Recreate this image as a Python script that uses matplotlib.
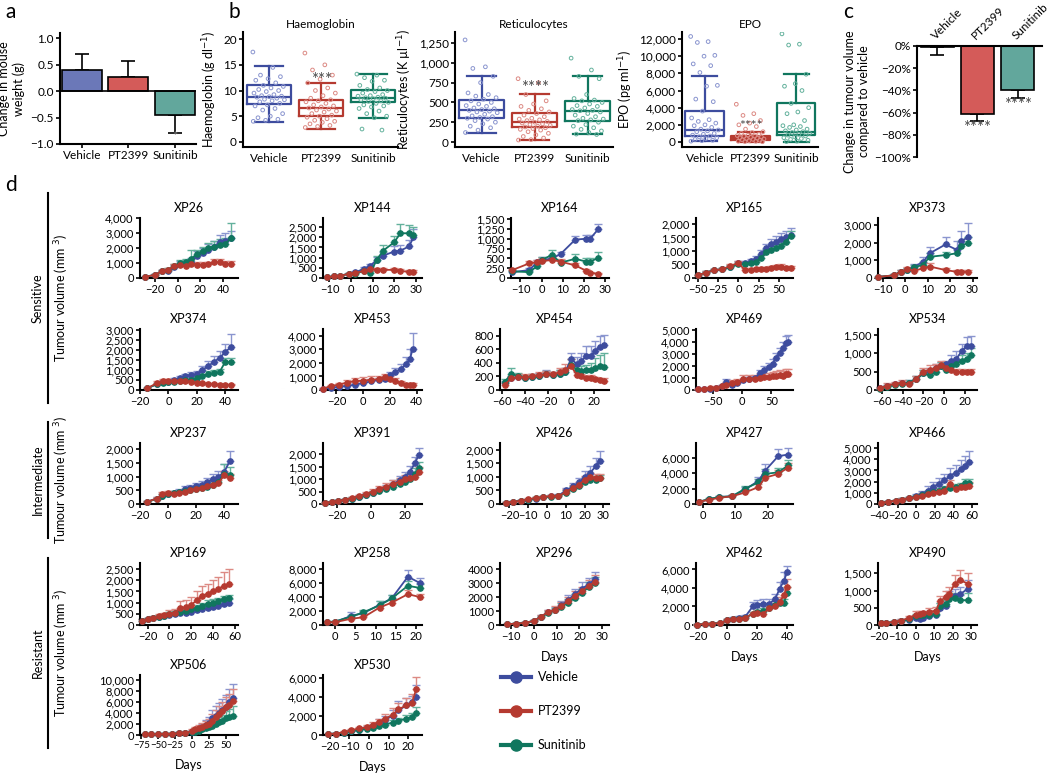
import matplotlib.pyplot as plt
from matplotlib.lines import Line2D
from matplotlib.ticker import FuncFormatter
import numpy as np

plt.rcParams['font.family'] = ['Lato', 'DejaVu Sans']
plt.rcParams['font.size'] = 8

W, H = 1050, 773

BLUE, RED, TEAL = '#3d4c9e', '#b53a30', '#10765e'
LBLUE, LRED, LTEAL = '#8a95cf', '#dc8a84', '#63b19c'
BAR_COLS = ['#6b78b8', '#d45b59', '#62a79c']

GROUPS = ['Vehicle', 'PT2399', 'Sunitinib']

# ---- a: mouse weight change (g)
WEIGHT = [0.40, 0.26, -0.46]
WEIGHT_ERR = [0.30, 0.31, 0.33]

# ---- b: haemoglobin
HB_Q1 = [7.4, 5.0, 7.7]
HB_MED = [8.8, 6.6, 8.6]
HB_Q3 = [11.0, 8.2, 10.1]
HB_LO = [3.9, 2.6, 4.7]
HB_HI = [14.7, 11.4, 13.3]
HB_VEH = [17.5, 14.5, 13.0, 12.7, 12.3, 12.0, 11.5, 11.0, 10.8, 10.5, 10.2, 10.0, 9.8, 9.5, 9.2, 9.0,
          8.9, 8.8, 8.7, 8.5, 8.3, 8.2, 8.0, 7.8, 7.5, 7.2, 7.0, 6.5, 6.2, 5.5, 5.0, 4.7, 4.4, 4.2, 4.0]
HB_PT = [17.3, 15.0, 14.0, 13.0, 12.2, 11.5, 10.5, 10.0, 9.5, 9.0, 8.5, 8.2, 8.0, 7.8, 7.5, 7.2, 7.0,
         6.8, 6.6, 6.4, 6.2, 6.0, 5.8, 5.5, 5.2, 5.0, 4.8, 4.5, 4.2, 4.0, 3.8, 3.5, 3.2, 3.0, 2.8]
HB_SUN = [13.2, 13.0, 12.5, 12.0, 11.8, 11.0, 10.5, 10.2, 10.0, 9.8, 9.5, 9.2, 9.0, 8.9, 8.7, 8.6, 8.5,
          8.4, 8.2, 8.0, 7.9, 7.7, 7.5, 7.2, 7.0, 6.8, 6.5, 6.0, 5.5, 5.0, 4.7, 2.5, 2.3]

# ---- b: reticulocytes
RET_Q1 = [300, 190, 270]
RET_MED = [400, 255, 395]
RET_Q3 = [535, 370, 520]
RET_LO = [115, 25, 95]
RET_HI = [835, 605, 840]
RET_VEH = [1290, 950, 930, 830, 750, 620, 600, 580, 560, 540, 520, 500, 480, 460, 450, 430, 420, 410,
           400, 390, 380, 370, 350, 330, 320, 310, 300, 290, 270, 250, 230, 200, 180, 150, 120]
RET_PT = [800, 750, 600, 520, 480, 450, 420, 400, 380, 360, 340, 320, 300, 290, 280, 270, 260, 250,
          240, 230, 220, 210, 200, 190, 180, 170, 160, 150, 130, 110, 90, 70, 50, 30, 25]
RET_SUN = [1060, 910, 830, 800, 600, 550, 530, 520, 500, 480, 460, 450, 430, 410, 400, 395, 380, 360,
           340, 320, 300, 290, 280, 270, 250, 220, 200, 180, 160, 140, 120, 100, 95]

# ---- b: EPO
EPO_Q1 = [700, 200, 800]
EPO_MED = [1400, 450, 1200]
EPO_Q3 = [3600, 750, 4500]
EPO_LO = [100, 0, 50]
EPO_HI = [7750, 1200, 7900]
EPO_VEH = [12300, 11700, 11600, 10100, 10000, 9100, 8900, 8100, 6600, 6500, 5000, 4700, 3600, 2800,
           2600, 2400, 2200, 2000, 1900, 1700, 1500, 1400, 1300, 1200, 1000, 900, 800, 700, 600, 500,
           400, 300, 200, 150, 100]
EPO_PT = [4400, 3300, 3100, 2500, 2200, 2000, 1800, 1500, 1200, 1100, 1000, 900, 800, 750, 700, 650,
          600, 550, 500, 450, 400, 350, 300, 250, 200, 150, 100, 80, 50, 30]
EPO_SUN = [12600, 11400, 11300, 7900, 6800, 6500, 6000, 4500, 4000, 3500, 3300, 2500, 2000, 1900, 1800,
           1700, 1500, 1400, 1300, 1200, 1100, 1000, 900, 800, 700, 600, 500, 400, 300, 200, 100, 50]

# ---- c: change in tumour volume vs vehicle (%)
TUMOUR_CHANGE = [-1, -61, -40]
TUMOUR_ERR = [7, 7, 7]

# ---- d: tumour growth curves (mm3), mean and SEM
XP26_DAYS = [-29, -20, -14, -8, -3, 2, 7, 12, 17, 22, 27, 32, 37, 42, 47]
XP26_VEH = [80, 200, 450, 500, 750, 950, 1000, 1100, 1500, 1700, 1900, 2100, 2400, 2500, 2650]
XP26_VEH_ERR = [20, 50, 100, 120, 150, 200, 200, 250, 300, 300, 350, 400, 450, 500, 500]
XP26_PT = [80, 200, 450, 550, 800, 850, 800, 950, 900, 900, 950, 1050, 1050, 950, 950]
XP26_PT_ERR = [20, 50, 100, 120, 150, 150, 100, 150, 150, 150, 150, 200, 200, 200, 200]
XP26_SUN = [80, 200, 450, 550, 800, 1000, 1050, 1300, 1600, 1800, 2000, 2100, 2200, 2300, 2650]
XP26_SUN_ERR = [20, 50, 100, 120, 150, 200, 200, 600, 250, 300, 350, 400, 400, 400, 1000]

XP144_DAYS = [-11, -8, -5, -1, 2, 6, 9, 12, 15, 20, 23, 27, 29]
XP144_VEH = [30, 80, 120, 200, 280, 450, 600, 900, 1100, 1300, 1350, 1550, 2000]
XP144_VEH_ERR = [10, 20, 30, 50, 60, 100, 100, 150, 200, 250, 250, 300, 400]
XP144_PT = [30, 80, 120, 200, 250, 350, 450, 400, 400, 400, 350, 300, 300]
XP144_PT_ERR = [10, 20, 30, 50, 60, 100, 100, 100, 100, 100, 100, 80, 80]
XP144_SUN = [30, 80, 120, 200, 200, 350, 250, 900, 1350, 1750, 2200, 2200, 2100]
XP144_SUN_ERR = [10, 20, 30, 50, 60, 100, 80, 200, 250, 300, 450, 400, 400]

XP164_DAYS = [-14, -6, -2, 0, 5, 9, 16, 21, 23, 27]
XP164_VEH = [150, 200, 400, 450, 500, 610, 980, 1000, 1000, 1250]
XP164_VEH_ERR = [30, 50, 60, 80, 80, 60, 80, 100, 100, 130]
XP164_PT = [200, 370, 400, 430, 460, 420, 320, 190, 130, 110]
XP164_PT_ERR = [30, 60, 60, 80, 80, 60, 60, 40, 30, 30]
XP164_SUN = [170, 150, 300, 460, 590, 390, 490, 420, 420, 510]
XP164_SUN_ERR = [30, 40, 60, 80, 120, 70, 120, 100, 100, 150]

XP165_DAYS = [-50, -40, -30, -20, -10, 0, 8, 15, 22, 28, 34, 40, 46, 52, 58, 64]
XP165_VEH = [100, 200, 280, 320, 400, 550, 550, 620, 700, 900, 1100, 1250, 1350, 1450, 1500, 1600]
XP165_VEH_ERR = [20, 60, 60, 60, 70, 80, 80, 90, 100, 150, 150, 200, 200, 200, 250, 250]
XP165_PT = [100, 200, 280, 320, 450, 550, 300, 300, 320, 330, 350, 380, 400, 420, 380, 380]
XP165_PT_ERR = [20, 60, 60, 60, 70, 80, 60, 60, 60, 60, 60, 70, 70, 80, 60, 60]
XP165_SUN = [100, 200, 280, 320, 400, 500, 520, 550, 600, 750, 950, 1050, 1100, 1200, 1350, 1550]
XP165_SUN_ERR = [20, 60, 60, 60, 70, 80, 80, 80, 90, 100, 120, 130, 150, 150, 150, 200]

XP373_DAYS = [-12, -5, -2, 1, 4, 8, 11, 18, 23, 25, 28]
XP373_VEH = [60, 150, 350, 450, 650, 900, 1400, 1900, 1600, 2100, 2300]
XP373_VEH_ERR = [20, 50, 80, 100, 150, 300, 350, 450, 500, 550, 800]
XP373_PT = [60, 150, 350, 500, 400, 550, 650, 450, 350, 350, 350]
XP373_PT_ERR = [20, 50, 80, 150, 100, 150, 200, 100, 80, 80, 80]
XP373_SUN = [60, 150, 350, 450, 600, 750, 1200, 1300, 1400, 1800, 2000]
XP373_SUN_ERR = [20, 50, 80, 100, 120, 150, 200, 200, 250, 300, 300]

XP374_DAYS = [-15, -8, -4, 0, 4, 8, 12, 16, 20, 24, 28, 32, 36, 40, 44]
XP374_VEH = [80, 300, 400, 420, 500, 600, 700, 750, 800, 1000, 1200, 1400, 1600, 1900, 2150]
XP374_VEH_ERR = [20, 60, 80, 80, 100, 100, 120, 150, 150, 200, 250, 300, 350, 400, 650]
XP374_PT = [80, 350, 450, 450, 450, 450, 450, 400, 350, 330, 300, 280, 260, 250, 250]
XP374_PT_ERR = [20, 80, 100, 80, 80, 80, 80, 70, 60, 60, 50, 50, 50, 50, 50]
XP374_SUN = [80, 300, 350, 380, 420, 450, 500, 500, 600, 700, 800, 850, 900, 1400, 1400]
XP374_SUN_ERR = [20, 60, 60, 70, 80, 80, 90, 100, 100, 120, 150, 150, 150, 200, 200]

XP453_DAYS = [-30, -24, -18, -12, -6, 0, 6, 12, 16, 20, 24, 28, 32, 35, 37]
XP453_VEH = [100, 150, 250, 300, 400, 500, 650, 750, 800, 1100, 1300, 1550, 1900, 2300, 3000]
XP453_VEH_ERR = [30, 50, 60, 80, 100, 120, 150, 150, 200, 250, 300, 400, 500, 700, 1200]
XP453_PT = [100, 300, 400, 550, 650, 700, 750, 800, 950, 800, 700, 500, 400, 350, 400]
XP453_PT_ERR = [50, 100, 150, 200, 250, 250, 250, 250, 250, 200, 200, 150, 100, 100, 100]

XP454_DAYS = [-58, -52, -46, -40, -34, -28, -22, -16, -10, -5, 0, 5, 9, 13, 17, 21, 25, 29]
XP454_VEH = [100, 170, 190, 180, 190, 210, 240, 220, 240, 270, 460, 380, 430, 500, 500, 580, 640, 660]
XP454_VEH_ERR = [30, 40, 40, 40, 40, 40, 50, 40, 50, 60, 80, 100, 120, 150, 150, 150, 150, 150]
XP454_PT = [80, 170, 190, 190, 200, 220, 230, 230, 260, 300, 350, 220, 200, 170, 180, 160, 150, 140]
XP454_PT_ERR = [30, 40, 40, 40, 40, 40, 50, 40, 60, 80, 100, 50, 40, 40, 40, 30, 30, 30]
XP454_SUN = [120, 240, 200, 180, 190, 200, 230, 220, 240, 260, 370, 300, 280, 290, 300, 320, 360, 340]
XP454_SUN_ERR = [40, 90, 50, 40, 40, 40, 50, 40, 50, 60, 80, 70, 70, 80, 100, 150, 150, 200]

XP469_DAYS = [-75, -65, -55, -45, -35, -27, -18, -8, 2, 12, 22, 30, 38, 46, 52, 58, 64, 70, 75, 78]
XP469_VEH = [50, 80, 120, 200, 300, 700, 400, 600, 800, 900, 1000, 1400, 1700, 1900, 2200, 2700,
             3100, 3500, 3900, 4000]
XP469_VEH_ERR = [20, 30, 40, 60, 80, 200, 100, 150, 150, 150, 200, 300, 300, 350, 400, 400, 450, 500,
                 600, 600]
XP469_PT = [50, 100, 150, 200, 300, 450, 550, 650, 900, 950, 950, 1000, 1100, 1100, 1150, 1200, 1250,
            1200, 1300, 1300]
XP469_PT_ERR = [30, 50, 80, 100, 150, 200, 250, 300, 350, 300, 300, 300, 350, 350, 350, 400, 400, 400,
                450, 450]

XP534_DAYS = [-62, -55, -48, -41, -34, -27, -20, -14, -8, -3, 2, 7, 12, 17, 22, 26]
XP534_VEH = [50, 100, 150, 180, 200, 300, 450, 500, 600, 650, 700, 800, 850, 1050, 1200, 1200]
XP534_VEH_ERR = [30, 40, 50, 50, 60, 80, 100, 100, 120, 100, 100, 150, 200, 200, 250, 280]
XP534_PT = [50, 120, 160, 200, 150, 300, 500, 550, 600, 680, 600, 550, 500, 500, 480, 500]
XP534_PT_ERR = [40, 60, 70, 80, 60, 80, 100, 120, 120, 100, 100, 100, 80, 70, 60, 60]
XP534_SUN = [40, 90, 130, 160, 200, 300, 450, 400, 500, 650, 550, 650, 700, 800, 850, 950]
XP534_SUN_ERR = [30, 40, 50, 50, 60, 80, 100, 80, 100, 120, 100, 120, 120, 150, 150, 200]

XP237_DAYS = [-15, -8, -4, 0, 4, 8, 12, 16, 20, 24, 28, 32, 36, 40, 44]
XP237_VEH = [80, 200, 300, 350, 400, 450, 550, 600, 650, 700, 800, 900, 1000, 1150, 1550]
XP237_VEH_ERR = [20, 40, 60, 60, 70, 80, 100, 100, 120, 150, 150, 200, 200, 300, 380]
XP237_PT = [80, 200, 350, 400, 380, 400, 450, 500, 550, 600, 650, 700, 750, 1050, 950]
XP237_PT_ERR = [20, 40, 70, 80, 70, 70, 80, 80, 100, 100, 100, 120, 120, 150, 150]
XP237_SUN = [80, 180, 300, 380, 400, 420, 480, 500, 550, 600, 620, 700, 800, 1100, 1050]
XP237_SUN_ERR = [20, 40, 60, 70, 70, 70, 80, 80, 100, 100, 100, 120, 150, 350, 280]

XP391_DAYS = [-27, -23, -19, -15, -11, -7, -3, 1, 5, 9, 13, 17, 20, 23, 26, 28]
XP391_VEH = [50, 80, 120, 170, 220, 300, 380, 450, 550, 650, 800, 950, 1100, 1300, 1650, 1950]
XP391_VEH_ERR = [20, 20, 30, 40, 50, 60, 70, 80, 100, 120, 150, 180, 200, 220, 250, 300]
XP391_PT = [50, 80, 120, 180, 240, 320, 400, 500, 600, 700, 800, 900, 1000, 1050, 1100, 1300]
XP391_PT_ERR = [20, 20, 30, 40, 50, 60, 80, 100, 120, 130, 150, 150, 150, 150, 150, 200]
XP391_SUN = [50, 80, 120, 170, 220, 280, 350, 430, 520, 620, 700, 800, 900, 1000, 1200, 1450]
XP391_SUN_ERR = [20, 20, 30, 40, 50, 60, 70, 80, 100, 120, 150, 200, 200, 250, 250, 250]

XP426_DAYS = [-22, -18, -14, -10, -6, -2, 2, 6, 10, 14, 17, 20, 23, 26, 28]
XP426_VEH = [50, 80, 120, 160, 200, 240, 280, 300, 500, 650, 800, 1000, 1150, 1400, 1600]
XP426_VEH_ERR = [20, 20, 30, 40, 40, 50, 50, 60, 100, 120, 150, 200, 250, 300, 350]
XP426_PT = [50, 80, 120, 170, 220, 260, 290, 280, 450, 600, 700, 900, 1000, 950, 950]
XP426_PT_ERR = [20, 20, 30, 40, 40, 50, 50, 60, 100, 100, 120, 150, 150, 150, 150]
XP426_SUN = [50, 80, 120, 160, 210, 250, 270, 280, 420, 550, 650, 800, 900, 900, 950]
XP426_SUN_ERR = [20, 20, 30, 40, 40, 50, 50, 60, 80, 100, 100, 120, 120, 120, 120]

XP427_DAYS = [-1, 2, 5, 9, 13, 17, 19, 23, 26]
XP427_VEH = [300, 600, 900, 1000, 1900, 3000, 4300, 6200, 6400]
XP427_VEH_ERR = [50, 100, 150, 150, 300, 500, 900, 900, 900]
XP427_PT = [300, 550, 800, 1000, 1500, 2200, 3400, 3900, 4700]
XP427_PT_ERR = [50, 100, 150, 150, 300, 400, 500, 500, 600]
XP427_SUN = [300, 650, 900, 1000, 2000, 2800, 3900, 4100, 5000]
XP427_SUN_ERR = [50, 100, 150, 150, 300, 500, 600, 600, 700]

XP466_DAYS = [-38, -30, -22, -15, -8, 0, 6, 12, 18, 24, 30, 36, 42, 48, 52, 56]
XP466_VEH = [100, 200, 300, 400, 500, 700, 900, 1200, 1500, 1800, 2100, 2500, 2800, 3100, 3400, 3750]
XP466_VEH_ERR = [30, 50, 80, 100, 150, 200, 300, 400, 500, 500, 600, 700, 700, 800, 900, 1000]
XP466_PT = [100, 200, 300, 400, 500, 600, 750, 900, 1000, 1100, 1200, 1800, 1300, 1500, 1500, 1600]
XP466_PT_ERR = [30, 50, 80, 100, 120, 150, 200, 200, 250, 250, 300, 300, 300, 300, 350, 350]
XP466_SUN = [100, 200, 300, 400, 500, 650, 800, 1000, 1100, 1200, 1300, 1400, 1500, 1600, 1900, 1900]
XP466_SUN_ERR = [30, 50, 80, 100, 120, 150, 200, 200, 250, 250, 300, 300, 300, 300, 300, 350]

XP169_DAYS = [-25, -20, -15, -10, -5, 0, 5, 10, 15, 20, 25, 30, 35, 40, 45, 50, 55]
XP169_VEH = [200, 250, 300, 350, 400, 450, 500, 520, 550, 600, 650, 700, 750, 800, 850, 950, 1000]
XP169_VEH_ERR = [50, 50, 60, 70, 80, 90, 100, 100, 100, 120, 120, 130, 130, 150, 150, 150, 150]
XP169_PT = [200, 250, 320, 380, 430, 500, 550, 750, 800, 900, 1100, 1300, 1400, 1500, 1600, 1750, 1850]
XP169_PT_ERR = [50, 60, 80, 100, 120, 150, 150, 300, 300, 350, 400, 450, 450, 500, 550, 600, 650]
XP169_SUN = [200, 250, 300, 370, 420, 480, 530, 580, 620, 700, 780, 850, 950, 1000, 1050, 1150, 1200]
XP169_SUN_ERR = [50, 50, 60, 70, 80, 90, 100, 100, 110, 120, 130, 140, 150, 150, 150, 160, 160]

XP258_DAYS = [-2, 0, 4, 7, 11, 14, 18, 21]
XP258_VEH = [400, 450, 1300, 1700, 2900, 3800, 6900, 6000]
XP258_VEH_ERR = [100, 100, 500, 300, 500, 500, 900, 700]
XP258_PT = [400, 400, 900, 1100, 2500, 3200, 4400, 4000]
XP258_PT_ERR = [100, 100, 200, 200, 300, 400, 600, 500]
XP258_SUN = [400, 500, 1200, 1800, 2800, 3800, 5600, 5300]
XP258_SUN_ERR = [100, 100, 300, 300, 700, 500, 700, 600]

XP296_DAYS = [-12, -8, -4, 0, 3, 6, 9, 12, 15, 18, 21, 24, 27]
XP296_VEH = [50, 100, 150, 300, 600, 900, 1100, 1400, 1800, 2200, 2600, 2900, 3300]
XP296_VEH_ERR = [30, 50, 60, 80, 150, 200, 200, 300, 350, 400, 450, 450, 500]
XP296_PT = [50, 100, 150, 300, 600, 900, 1100, 1350, 1700, 2100, 2400, 2800, 3100]
XP296_PT_ERR = [30, 50, 60, 80, 150, 200, 250, 300, 300, 350, 350, 400, 450]
XP296_SUN = [50, 100, 150, 300, 550, 850, 1050, 1300, 1600, 1950, 2300, 2700, 3000]
XP296_SUN_ERR = [30, 50, 60, 80, 100, 150, 200, 250, 250, 300, 300, 350, 400]

XP462_DAYS = [-20, -15, -10, -5, 0, 4, 8, 12, 17, 20, 24, 28, 32, 35, 38, 40]
XP462_VEH = [50, 100, 150, 200, 500, 700, 800, 900, 2000, 2200, 2300, 2300, 2800, 3900, 4800, 5700]
XP462_VEH_ERR = [30, 40, 50, 60, 100, 150, 150, 200, 500, 500, 500, 500, 600, 800, 900, 700]
XP462_PT = [50, 100, 150, 200, 500, 600, 700, 800, 1200, 1300, 1200, 1800, 2000, 2500, 3200, 4100]
XP462_PT_ERR = [30, 40, 50, 60, 100, 100, 150, 150, 200, 300, 300, 300, 400, 500, 700, 900]
XP462_SUN = [50, 100, 150, 200, 500, 650, 700, 800, 1200, 1400, 1500, 1800, 2200, 2400, 2400, 3500]
XP462_SUN_ERR = [30, 40, 50, 60, 100, 100, 150, 150, 200, 250, 300, 300, 400, 400, 400, 600]

XP490_DAYS = [-19, -16, -12, -8, -4, 0, 2, 4, 7, 11, 13, 16, 18, 21, 24, 28]
XP490_VEH = [50, 60, 80, 120, 150, 200, 180, 200, 250, 300, 500, 550, 800, 850, 900, 1050]
XP490_VEH_ERR = [20, 20, 30, 40, 50, 80, 60, 60, 80, 100, 150, 150, 200, 200, 200, 250]
XP490_PT = [50, 60, 90, 130, 200, 300, 320, 340, 380, 420, 700, 800, 900, 1200, 1300, 1200]
XP490_PT_ERR = [20, 20, 30, 40, 60, 120, 100, 80, 100, 100, 150, 200, 200, 250, 300, 300]
XP490_SUN = [50, 60, 80, 110, 160, 250, 280, 300, 300, 330, 550, 600, 750, 780, 720, 720]
XP490_SUN_ERR = [20, 20, 30, 40, 50, 80, 80, 80, 80, 80, 100, 120, 150, 150, 150, 200]

XP506_DAYS = [-70, -60, -50, -40, -30, -20, -10, 0, 5, 10, 15, 20, 25, 30, 35, 40, 45, 50, 55, 60]
XP506_VEH = [100, 120, 150, 180, 200, 300, 400, 600, 800, 1000, 1300, 1800, 2200, 3000, 3500, 4000,
             4500, 5000, 6000, 6700]
XP506_VEH_ERR = [100, 100, 100, 100, 150, 200, 200, 300, 400, 500, 700, 900, 1100, 1500, 1700, 1800,
                 2000, 2200, 2400, 2600]
XP506_PT = [100, 120, 150, 180, 200, 300, 400, 700, 1000, 1300, 1500, 1800, 2000, 2600, 3200, 3800,
            4300, 5000, 5500, 6200]
XP506_PT_ERR = [100, 100, 100, 100, 150, 200, 250, 400, 500, 600, 700, 800, 900, 1200, 1300, 1500,
                1700, 1900, 2000, 2200]
XP506_SUN = [100, 120, 150, 180, 200, 300, 400, 500, 600, 800, 1000, 1200, 1400, 1700, 2000, 2300,
             2600, 3000, 3300, 3500]
XP506_SUN_ERR = [100, 100, 100, 100, 150, 200, 200, 250, 300, 400, 500, 600, 700, 800, 900, 1000,
                 1100, 1300, 1500, 1700]

XP530_DAYS = [-21, -17, -13, -9, -5, -1, 2, 5, 8, 12, 15, 19, 22, 24]
XP530_VEH = [100, 150, 250, 400, 550, 700, 900, 1300, 1600, 2000, 2600, 3100, 3500, 4000]
XP530_VEH_ERR = [50, 60, 80, 100, 150, 200, 250, 350, 400, 600, 1000, 800, 600, 1300]
XP530_PT = [100, 150, 300, 500, 700, 800, 1100, 1400, 1700, 2100, 2700, 3100, 3400, 4800]
XP530_PT_ERR = [50, 60, 80, 100, 150, 200, 300, 300, 500, 700, 700, 800, 900, 1300]
XP530_SUN = [100, 150, 250, 400, 550, 650, 750, 900, 1100, 1300, 1500, 1700, 1900, 2300]
XP530_SUN_ERR = [50, 60, 80, 100, 120, 150, 150, 200, 200, 300, 300, 400, 400, 600]

# layout of panel d grid (pixels)
ROWS = [(218, 278), (329, 390), (443, 504), (563, 625), (675, 735)]
COLS = [(140, 238), (323, 422), (500, 609), (696, 793), (878, 977)]
LEFT_OVERRIDE = {'XP164': 511}

# title, row, col, xlim, xticks, ytop, ystep, days, veh, pt, sun, comma, days label
PANELS = [
    ('XP26', 0, 0, (-33, 53), [-20, 0, 20, 40], 4000, 1000, XP26_DAYS,
     (XP26_VEH, XP26_VEH_ERR), (XP26_PT, XP26_PT_ERR), (XP26_SUN, XP26_SUN_ERR), True, False),
    ('XP144', 0, 1, (-13, 33), [-10, 0, 10, 20, 30], 2950, 500, XP144_DAYS,
     (XP144_VEH, XP144_VEH_ERR), (XP144_PT, XP144_PT_ERR), (XP144_SUN, XP144_SUN_ERR), True, False),
    ('XP164', 0, 2, (-14.5, 32), [-10, 0, 10, 20, 30], 1530, 250, XP164_DAYS,
     (XP164_VEH, XP164_VEH_ERR), (XP164_PT, XP164_PT_ERR), (XP164_SUN, XP164_SUN_ERR), True, False),
    ('XP165', 0, 3, (-52, 67), [-50, -25, 0, 25, 50], 2220, 500, XP165_DAYS,
     (XP165_VEH, XP165_VEH_ERR), (XP165_PT, XP165_PT_ERR), (XP165_SUN, XP165_SUN_ERR), True, False),
    ('XP373', 0, 4, (-12, 32), [-10, 0, 10, 20, 30], 3400, 1000, XP373_DAYS,
     (XP373_VEH, XP373_VEH_ERR), (XP373_PT, XP373_PT_ERR), (XP373_SUN, XP373_SUN_ERR), True, False),
    ('XP374', 1, 0, (-20, 49), [-20, 0, 20, 40], 3050, 500, XP374_DAYS,
     (XP374_VEH, XP374_VEH_ERR), (XP374_PT, XP374_PT_ERR), (XP374_SUN, XP374_SUN_ERR), True, False),
    ('XP453', 1, 1, (-30, 44), [-20, 0, 20, 40], 4500, 1000, XP453_DAYS,
     (XP453_VEH, XP453_VEH_ERR), (XP453_PT, XP453_PT_ERR), None, True, False),
    ('XP454', 1, 2, (-62, 33), [-60, -40, -20, 0, 20], 900, 200, XP454_DAYS,
     (XP454_VEH, XP454_VEH_ERR), (XP454_PT, XP454_PT_ERR), (XP454_SUN, XP454_SUN_ERR), True, False),
    ('XP469', 1, 3, (-79, 87), [-50, 0, 50], 5100, 1000, XP469_DAYS,
     (XP469_VEH, XP469_VEH_ERR), (XP469_PT, XP469_PT_ERR), None, True, False),
    ('XP534', 1, 4, (-64, 32), [-60, -40, -20, 0, 20], 1660, 500, XP534_DAYS,
     (XP534_VEH, XP534_VEH_ERR), (XP534_PT, XP534_PT_ERR), (XP534_SUN, XP534_SUN_ERR), True, False),
    ('XP237', 2, 0, (-20, 50), [-20, 0, 20, 40], 2220, 500, XP237_DAYS,
     (XP237_VEH, XP237_VEH_ERR), (XP237_PT, XP237_PT_ERR), (XP237_SUN, XP237_SUN_ERR), True, False),
    ('XP391', 2, 1, (-28, 30), [-20, 0, 20], 2440, 500, XP391_DAYS,
     (XP391_VEH, XP391_VEH_ERR), (XP391_PT, XP391_PT_ERR), (XP391_SUN, XP391_SUN_ERR), True, False),
    ('XP426', 2, 2, (-25, 33), [-20, -10, 0, 10, 20, 30], 2250, 500, XP426_DAYS,
     (XP426_VEH, XP426_VEH_ERR), (XP426_PT, XP426_PT_ERR), (XP426_SUN, XP426_SUN_ERR), True, False),
    ('XP427', 2, 3, (-2, 27.5), [0, 10, 20], 7900, 2000, XP427_DAYS,
     (XP427_VEH, XP427_VEH_ERR), (XP427_PT, XP427_PT_ERR), (XP427_SUN, XP427_SUN_ERR), True, False),
    ('XP466', 2, 4, (-41, 65), [-40, -20, 0, 20, 40, 60], 5450, 1000, XP466_DAYS,
     (XP466_VEH, XP466_VEH_ERR), (XP466_PT, XP466_PT_ERR), (XP466_SUN, XP466_SUN_ERR), True, False),
    ('XP169', 3, 0, (-27, 63), [-20, 0, 20, 40, 60], 2770, 500, XP169_DAYS,
     (XP169_VEH, XP169_VEH_ERR), (XP169_PT, XP169_PT_ERR), (XP169_SUN, XP169_SUN_ERR), True, False),
    ('XP258', 3, 1, (-3, 21.5), [0, 5, 10, 15, 20], 8860, 2000, XP258_DAYS,
     (XP258_VEH, XP258_VEH_ERR), (XP258_PT, XP258_PT_ERR), (XP258_SUN, XP258_SUN_ERR), True, False),
    ('XP296', 3, 2, (-15, 33), [-10, 0, 10, 20, 30], 4430, 1000, XP296_DAYS,
     (XP296_VEH, XP296_VEH_ERR), (XP296_PT, XP296_PT_ERR), (XP296_SUN, XP296_SUN_ERR), False, True),
    ('XP462', 3, 3, (-21, 44), [-20, 0, 20, 40], 6700, 2000, XP462_DAYS,
     (XP462_VEH, XP462_VEH_ERR), (XP462_PT, XP462_PT_ERR), (XP462_SUN, XP462_SUN_ERR), True, True),
    ('XP490', 3, 4, (-20.5, 33), [-20, -10, 0, 10, 20, 30], 1800, 500, XP490_DAYS,
     (XP490_VEH, XP490_VEH_ERR), (XP490_PT, XP490_PT_ERR), (XP490_SUN, XP490_SUN_ERR), True, True),
    ('XP506', 4, 0, (-77, 68), [-75, -50, -25, 0, 25, 50], 10900, 2000, XP506_DAYS,
     (XP506_VEH, XP506_VEH_ERR), (XP506_PT, XP506_PT_ERR), (XP506_SUN, XP506_SUN_ERR), True, True),
    ('XP530', 4, 1, (-23.5, 27), [-20, -10, 0, 10, 20], 6300, 2000, XP530_DAYS,
     (XP530_VEH, XP530_VEH_ERR), (XP530_PT, XP530_PT_ERR), (XP530_SUN, XP530_SUN_ERR), True, True),
]

fig = plt.figure(figsize=(W / 100, H / 100), dpi=100)


def add_ax(l, t, r, b):
    return fig.add_axes([l / W, 1 - b / H, (r - l) / W, (b - t) / H])


def style(ax, size=8):
    for s in ['top', 'right']:
        ax.spines[s].set_visible(False)
    for s in ['left', 'bottom']:
        ax.spines[s].set_linewidth(1.5)
    ax.tick_params(length=3, width=1.2, labelsize=size, pad=1.5)


comma = FuncFormatter(lambda v, p: f'{v:,.0f}'.replace('-', '\u2212'))
STAR = '#4a4a4a'

# ---------------- a
ax = add_ax(60, 33, 196, 144)
style(ax, 8.5)
pos = np.arange(1, 4)
ax.bar(pos, WEIGHT, width=0.86, color=BAR_COLS, edgecolor='k', lw=1.2, zorder=2)
lower = [e if v < 0 else 0 for v, e in zip(WEIGHT, WEIGHT_ERR)]
upper = [e if v >= 0 else 0 for v, e in zip(WEIGHT, WEIGHT_ERR)]
ax.errorbar(pos, WEIGHT, yerr=[lower, upper], fmt='none', ecolor='k', elinewidth=1.2,
            capsize=5, capthick=1.2, zorder=1)
ax.axhline(0, color='k', lw=1.2, zorder=3)
ax.text(3, -0.86, '*', ha='center', va='center', fontsize=9, color='#777777')
ax.set_xlim(0.53, 3.45)
ax.set_ylim(-1.0, 1.1)
ax.set_yticks([-1, -0.5, 0, 0.5, 1])
ax.yaxis.set_major_formatter(FuncFormatter(lambda v, p: f'{v:.1f}'.replace('-', '\u2212')))
ax.set_xticks(pos)
ax.set_xticklabels(GROUPS)
ax.set_ylabel('Change in mouse\nweight (g)', fontsize=9, labelpad=4)

# ---------------- b
jit = ((np.arange(40) * 0.618) % 1 - 0.5) * 0.62


def box_panel(ax, pts, q1, med, q3, lo, hi):
    cols = [BLUE, RED, TEAL]
    lcols = [LBLUE, LRED, LTEAL]
    for i in range(3):
        st = dict(med=med[i], q1=q1[i], q3=q3[i], whislo=lo[i], whishi=hi[i], fliers=[])
        lp = dict(color=cols[i], lw=1.6)
        ax.bxp([st], positions=[i + 1], widths=0.85, capwidths=0.55, showfliers=False,
               boxprops=lp, whiskerprops=lp, capprops=lp, medianprops=lp)
        y = pts[i]
        ax.scatter(i + 1 + jit[:len(y)], y, s=7, facecolors='none', edgecolors=lcols[i],
                   linewidths=0.7, zorder=3)
    ax.set_xlim(0.5, 3.48)
    ax.set_xticks([1, 2, 3])
    ax.set_xticklabels(GROUPS)
    ax.tick_params(axis='x', length=0, pad=4)


ax = add_ax(243, 32, 398, 147)
style(ax, 8.5)
box_panel(ax, [HB_VEH, HB_PT, HB_SUN], HB_Q1, HB_MED, HB_Q3, HB_LO, HB_HI)
ax.set_ylim(-1, 21.4)
ax.set_yticks([0, 5, 10, 15, 20])
ax.text(2, 12.0, '***', ha='center', va='center', fontsize=12, color=STAR, zorder=5)
ax.set_title('Haemoglobin', fontsize=8.5, pad=3)
ax.set_ylabel('Haemoglobin (g dl$^{-1}$)', fontsize=9, labelpad=3)

ax = add_ax(455, 32, 613, 147)
style(ax, 8.5)
box_panel(ax, [RET_VEH, RET_PT, RET_SUN], RET_Q1, RET_MED, RET_Q3, RET_LO, RET_HI)
ax.set_ylim(-63, 1390)
ax.set_yticks([0, 250, 500, 750, 1000, 1250])
ax.yaxis.set_major_formatter(comma)
ax.text(2, 680, '****', ha='center', va='center', fontsize=12, color=STAR, zorder=5)
ax.set_title('Reticulocytes', fontsize=8.5, pad=3)
ax.set_ylabel('Reticulocytes (K \u00b5l$^{-1}$)', fontsize=9, labelpad=3)

ax = add_ax(682, 32, 818, 147)
style(ax, 8.5)
box_panel(ax, [EPO_VEH, EPO_PT, EPO_SUN], EPO_Q1, EPO_MED, EPO_Q3, EPO_LO, EPO_HI)
ax.set_ylim(-583, 12820)
ax.set_yticks(range(0, 12001, 2000))
ax.yaxis.set_major_formatter(comma)
ax.text(2, 1900, '****', ha='center', va='center', fontsize=10, color=STAR, zorder=5)
ax.set_title('EPO', fontsize=8.5, pad=3)
ax.set_ylabel('EPO (pg ml$^{-1}$)', fontsize=9, labelpad=3)

# ---------------- c
ax = add_ax(917, 46, 1042, 157)
for s in ['right', 'bottom']:
    ax.spines[s].set_visible(False)
for s in ['left', 'top']:
    ax.spines[s].set_linewidth(1.5)
ax.bar(pos, TUMOUR_CHANGE, width=0.82, color=BAR_COLS, edgecolor='k', lw=1.2, zorder=2)
ax.errorbar(pos, TUMOUR_CHANGE, yerr=[TUMOUR_ERR, [0, 0, 0]], fmt='none', ecolor='k',
            elinewidth=1.2, capsize=5, capthick=1.2, zorder=1)
ax.text(2, -74, '****', ha='center', va='center', fontsize=12, color=STAR)
ax.text(3, -53, '****', ha='center', va='center', fontsize=12, color=STAR)
ax.set_xlim(0.5, 3.6)
ax.set_ylim(-100, 0)
ax.set_yticks(range(-100, 1, 20))
ax.yaxis.set_major_formatter(FuncFormatter(lambda v, p: f'{v:.0f}%'.replace('-', '\u2212')))
ax.tick_params(axis='y', length=3, width=1.2, labelsize=8.5, pad=1.5)
ax.xaxis.tick_top()
ax.set_xticks(pos)
ax.set_xticklabels(GROUPS, rotation=45, ha='left', rotation_mode='anchor', fontsize=8.5)
ax.tick_params(axis='x', length=0, pad=3)
for lab in ax.get_xticklabels():
    lab.set_x(lab.get_position()[0])
ax.set_ylabel('Change in tumour volume\ncompared to vehicle', fontsize=9, labelpad=3)

# ---------------- d
for title, r, c, xlim, xticks, ytop, ystep, days, veh, pt, sun, use_comma, days_lab in PANELS:
    t, b = ROWS[r]
    l, rr = COLS[c]
    l = LEFT_OVERRIDE.get(title, l)
    ax = add_ax(l, t, rr, b)
    style(ax, 8)
    for ser, col, lcol in [(veh, BLUE, LBLUE), (sun, TEAL, LTEAL), (pt, RED, LRED)]:
        if ser is None:
            continue
        vals, err = ser
        ax.errorbar(days, vals, yerr=[[0] * len(err), err], fmt='none', ecolor=lcol,
                    elinewidth=1.0, capsize=3, capthick=1.0, zorder=2, clip_on=False)
    for ser, col in [(veh, BLUE), (sun, TEAL), (pt, RED)]:
        if ser is None:
            continue
        ax.plot(days, ser[0], '-o', color=col, ms=3.8, lw=1.3, zorder=3, clip_on=False)
    ax.set_xlim(*xlim)
    ax.set_ylim(0, ytop)
    ax.set_xticks(xticks)
    ax.set_yticks(range(0, int(ytop) + 1, ystep)[: int(ytop // ystep) + 1])
    if use_comma:
        ax.yaxis.set_major_formatter(comma)
    ax.xaxis.set_major_formatter(FuncFormatter(lambda v, p: f'{v:.0f}'.replace('-', '\u2212')))
    if len(xticks) > 5 and xlim[1] - xlim[0] > 120:
        ax.tick_params(axis='x', labelsize=7, pad=1.5)
    ax.set_title(title, fontsize=9, pad=4)
    if days_lab:
        ax.set_xlabel('Days', fontsize=9, labelpad=6)

# row labels
for (y0, y1), name in [((193, 403), 'Sensitive'), ((422, 538), 'Intermediate'),
                       ((558, 748), 'Resistant')]:
    fig.add_artist(Line2D([48 / W, 48 / W], [1 - y0 / H, 1 - y1 / H], color='k', lw=1.5))
    ym = 1 - (y0 + y1) / 2 / H
    fig.text(38 / W, ym, name, rotation=90, ha='center', va='center', fontsize=9)
    fig.text(62 / W, ym, 'Tumour volume (mm $^{3}$)', rotation=90, ha='center', va='center',
             fontsize=9)

# legend
handles = [Line2D([], [], color=col, marker='o', ms=8, lw=3) for col in [BLUE, RED, TEAL]]
fig.legend(handles, GROUPS, loc='upper left', bbox_to_anchor=(490 / W, 1 - 660 / H),
           frameon=False, fontsize=9, labelspacing=1.75, handlelength=2.4, handletextpad=0.5)

# panel letters
for x, y, s in [(5, 12, 'a'), (228, 12, 'b'), (843, 12, 'c'), (5, 185, 'd')]:
    fig.text(x / W, 1 - y / H, s, fontsize=15, va='center', ha='left')

fig.savefig('out.png', dpi=100)
